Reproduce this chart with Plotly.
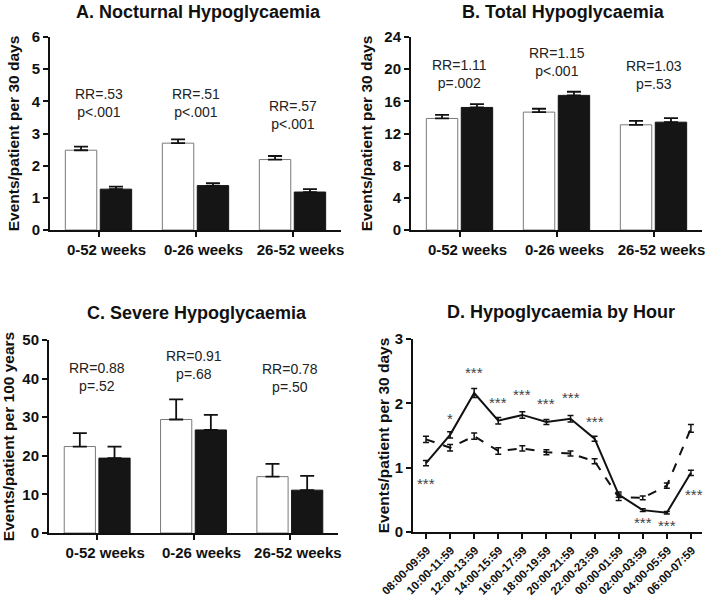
import plotly.graph_objects as go
from plotly.subplots import make_subplots

periods = ["0-52 weeks", "0-26 weeks", "26-52 weeks"]

# A. nocturnal (events/patient per 30 days)
noct_white = [2.48, 2.70, 2.19]
noct_white_err = [0.11, 0.12, 0.11]
noct_black = [1.27, 1.38, 1.18]
noct_black_err = [0.08, 0.08, 0.09]
noct_rr = ["RR=.53<br>p<.001", "RR=.51<br>p<.001", "RR=.57<br>p<.001"]
noct_rr_y = [3.96, 3.96, 3.56]

# B. total
tot_white = [13.87, 14.66, 13.08]
tot_white_err = [0.45, 0.42, 0.48]
tot_black = [15.24, 16.74, 13.41]
tot_black_err = [0.42, 0.45, 0.5]
tot_rr = ["RR=1.11<br>p=.002", "RR=1.15<br>p<.001", "RR=1.03<br>p=.53"]
tot_rr_y = [19.4, 20.85, 19.27]

# C. severe (events/patient per 100 years)
sev_white = [22.4, 29.4, 14.6]
sev_white_err = [3.5, 5.2, 3.3]
sev_black = [19.4, 26.7, 11.1]
sev_black_err = [3.0, 3.9, 3.7]
sev_rr = ["RR=0.88<br>p=.52", "RR=0.91<br>p=.68", "RR=0.78<br>p=.50"]
sev_rr_y = [40.4, 43.6, 40.1]

# D. by hour
hours = ["08:00-09:59", "10:00-11:59", "12:00-13:59", "14:00-15:59", "16:00-17:59",
         "18:00-19:59", "20:00-21:59", "22:00-23:59", "00:00-01:59", "02:00-03:59",
         "04:00-05:59", "06:00-07:59"]
solid_vals = [1.07, 1.51, 2.16, 1.73, 1.82, 1.71, 1.76, 1.45, 0.58, 0.34, 0.30, 0.92]
solid_err = [0.04, 0.05, 0.07, 0.05, 0.05, 0.04, 0.05, 0.04, 0.04, 0.02, 0.02, 0.04]
dash_vals = [1.44, 1.31, 1.49, 1.26, 1.30, 1.24, 1.22, 1.10, 0.54, 0.53, 0.72, 1.61]
dash_err = [0.05, 0.05, 0.05, 0.05, 0.04, 0.04, 0.04, 0.04, 0.05, 0.03, 0.04, 0.06]
star_hours = ["08:00-09:59", "10:00-11:59", "12:00-13:59", "14:00-15:59", "16:00-17:59",
              "18:00-19:59", "20:00-21:59", "22:00-23:59", "02:00-03:59", "04:00-05:59",
              "06:00-07:59"]
star_text = ["***", "*", "***", "***", "***", "***", "***", "***", "***", "***", "***"]
star_y = [0.76, 1.77, 2.48, 2.01, 2.13, 2.0, 2.09, 1.72, 0.14, 0.10, 0.59]

FONT = "Liberation Sans, Arial, sans-serif"
W, H = 709, 596


def fx(px):
    return px / W


def fy(py):
    return 1 - py / H


fig = make_subplots(rows=2, cols=2)

panels = [
    (1, 1, noct_white, noct_white_err, noct_black, noct_black_err),
    (1, 2, tot_white, tot_white_err, tot_black, tot_black_err),
    (2, 1, sev_white, sev_white_err, sev_black, sev_black_err),
]
for r, c, w, we, b, be in panels:
    fig.add_trace(go.Bar(x=periods, y=w,
                         marker=dict(color="white", line=dict(color="#7a7a7a", width=1)),
                         error_y=dict(type="data", array=we, arrayminus=[0] * 3, symmetric=False,
                                      color="#111", thickness=1.8, width=7),
                         showlegend=False), row=r, col=c)
    fig.add_trace(go.Bar(x=periods, y=b,
                         marker=dict(color="#151515", line=dict(color="#151515", width=1)),
                         error_y=dict(type="data", array=be, arrayminus=[0] * 3, symmetric=False,
                                      color="#111", thickness=1.8, width=7),
                         showlegend=False), row=r, col=c)

fig.add_trace(go.Scatter(x=hours, y=dash_vals, mode="lines",
                         line=dict(color="#111", width=2, dash="dash"),
                         error_y=dict(type="data", array=dash_err, color="#111", thickness=1.5, width=3),
                         showlegend=False), row=2, col=2)
fig.add_trace(go.Scatter(x=hours, y=solid_vals, mode="lines",
                         line=dict(color="#111", width=2),
                         error_y=dict(type="data", array=solid_err, color="#111", thickness=1.5, width=3),
                         showlegend=False), row=2, col=2)

fig.update_layout(width=W, height=H, margin=dict(l=0, r=0, t=0, b=0, autoexpand=False),
                  plot_bgcolor="white", paper_bgcolor="white",
                  bargap=0.28, bargroupgap=0.1,
                  font=dict(family=FONT, color="#111"))

# domains from pixel positions in the reference
fig.update_layout(
    xaxis=dict(domain=[fx(50), fx(341)]), yaxis=dict(domain=[fy(230), fy(37)]),
    xaxis2=dict(domain=[fx(411), fx(702)]), yaxis2=dict(domain=[fy(230), fy(37)]),
    xaxis3=dict(domain=[fx(49), fx(338)]), yaxis3=dict(domain=[fy(533), fy(340)]),
    xaxis4=dict(domain=[fx(413), fx(702)]), yaxis4=dict(domain=[fy(532), fy(339)]),
)

axis_style = dict(showline=True, linecolor="#111", linewidth=2, ticks="outside",
                  ticklen=5, tickwidth=2, tickcolor="#111", showgrid=False, zeroline=False,
                  automargin=False,
                  tickfont=dict(family=FONT, size=15, color="#111", weight="bold"))
fig.update_xaxes(**axis_style)
fig.update_yaxes(**axis_style)
fig.update_xaxes(range=[-0.5, 2.5], ticklabelshift=8)
fig.update_xaxes(range=[-0.54, 11.46], tickangle=-45, ticklabelshift=1,
                 tickfont=dict(size=11.5, weight="bold"), row=2, col=2)

ytitle = dict(font=dict(family=FONT, size=15.5, color="#111", weight="bold"))
fig.update_yaxes(range=[0, 6], dtick=1,
                 title=dict(text="Events/patient per 30 days", standoff=8, **ytitle), row=1, col=1)
fig.update_yaxes(range=[0, 24], dtick=4,
                 title=dict(text="Events/patient per 30 days", standoff=8, **ytitle), row=1, col=2)
fig.update_yaxes(range=[0, 50], dtick=10,
                 title=dict(text="Events/patient per 100 years", standoff=8, **ytitle), row=2, col=1)
fig.update_yaxes(range=[0, 3], dtick=1,
                 title=dict(text="Events/patient per 30 days", standoff=1, **ytitle), row=2, col=2)

titles = [("A. Nocturnal Hypoglycaemia", 198, 12), ("B. Total Hypoglycaemia", 563, 12),
          ("C. Severe Hypoglycaemia", 197, 313), ("D. Hypoglycaemia by Hour", 561, 312)]
for t, px, py in titles:
    fig.add_annotation(text="<b>%s</b>" % t, x=fx(px), y=fy(py), xref="paper", yref="paper",
                       xanchor="center", yanchor="middle", showarrow=False,
                       font=dict(family=FONT, size=18, color="#111"))

rr_font = dict(family=FONT, size=14, color="#222")
for (xr, yr), texts, ys in [(("x", "y"), noct_rr, noct_rr_y), (("x2", "y2"), tot_rr, tot_rr_y),
                            (("x3", "y3"), sev_rr, sev_rr_y)]:
    for p, t, yy in zip(periods, texts, ys):
        fig.add_annotation(x=p, y=yy, text=t, xref=xr, yref=yr, showarrow=False,
                           xanchor="center", yanchor="middle", font=rr_font)

for h, t, yy in zip(star_hours, star_text, star_y):
    fig.add_annotation(x=h, y=yy, text=t, xref="x4", yref="y4", showarrow=False,
                       xanchor="center", yanchor="middle",
                       xshift=3 if h == "06:00-07:59" else 0,
                       font=dict(family=FONT, size=15, color="#444"))

# drop the default page margin so the figure sits at the window's corner
fig.write_html("out.html", config={"displayModeBar": False},
               post_script="document.body.style.margin='0';document.body.style.overflow='hidden';")
